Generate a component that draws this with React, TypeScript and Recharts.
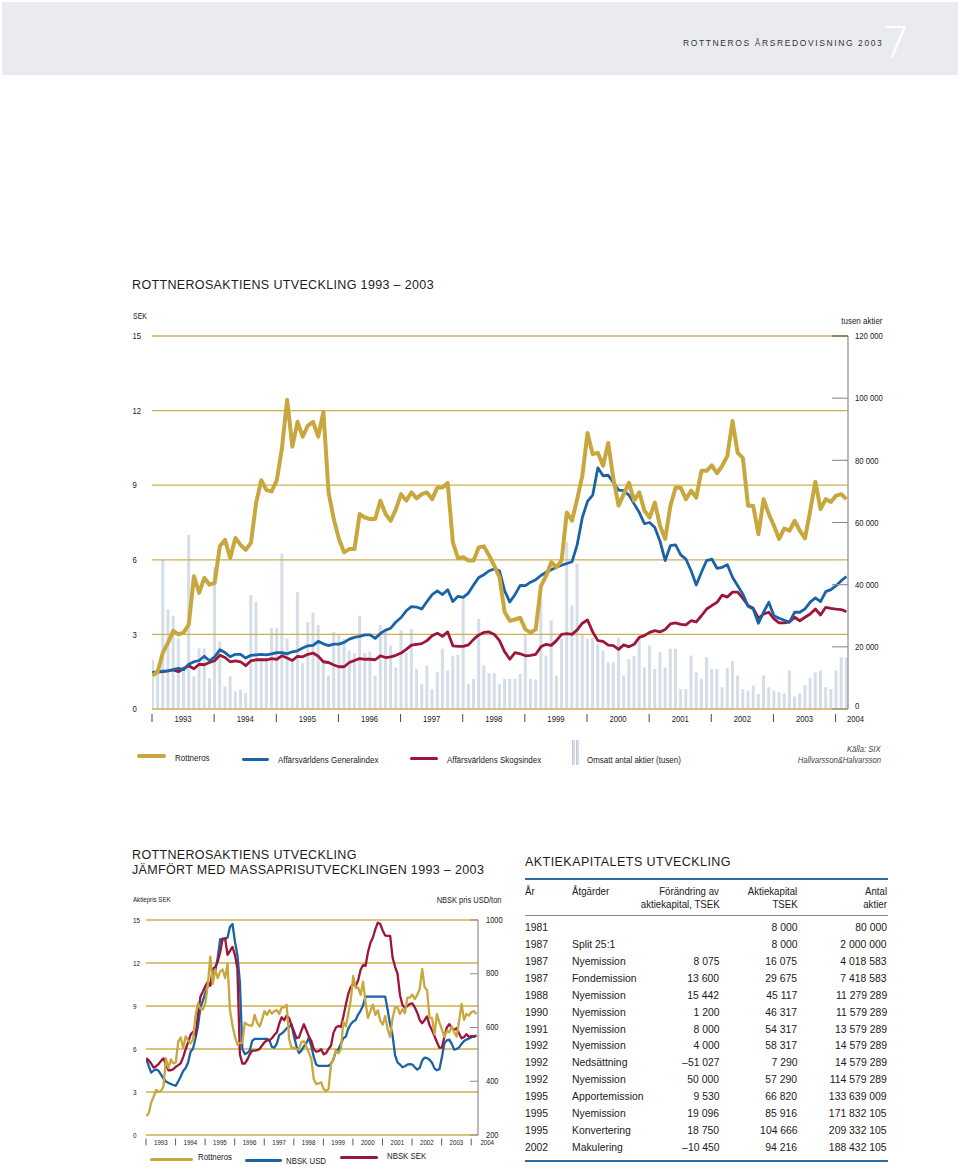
import React from 'react';
import { ComposedChart, Line, Bar, XAxis, YAxis, ReferenceLine } from 'recharts';

// ---------- DATA (monthly, Jan 1993 – Mar 2004) ----------
const ROTTNEROS = [
  1.34, 1.5, 2.27, 2.67, 3.14, 3.0, 3.07, 3.4, 5.34, 4.67, 5.27, 5.0,
  5.07, 6.54, 6.8, 6.07, 6.88, 6.6, 6.4, 6.68, 8.28, 9.2, 8.8, 8.75,
  9.2, 10.5, 12.44, 10.55, 11.55, 10.95, 11.4, 11.55, 10.95, 11.95, 8.7, 7.64,
  6.84, 6.3, 6.43, 6.43, 7.84, 7.7, 7.64, 7.64, 8.38, 7.84, 7.57, 8.04,
  8.64, 8.38, 8.71, 8.47, 8.64, 8.71, 8.44, 8.91, 8.91, 9.09, 6.7, 6.06,
  6.1, 5.97, 5.97, 6.5, 6.54, 6.17, 5.76, 5.3, 3.9, 3.55, 3.6, 3.67,
  3.2, 3.07, 3.2, 4.94, 5.35, 5.9, 5.7, 5.97, 7.9, 7.57, 8.44, 9.38,
  11.1, 10.25, 10.3, 9.78, 10.7, 9.25, 8.18, 8.64, 9.1, 8.38, 8.71, 7.97,
  7.7, 8.3, 7.37, 6.84, 8.17, 8.9, 8.9, 8.44, 8.78, 8.5, 9.58, 9.58,
  9.8, 9.48, 9.78, 10.18, 11.58, 10.3, 10.1, 8.17, 8.17, 7.03, 8.44, 7.84,
  7.37, 6.84, 7.26, 7.17, 7.57, 7.17, 6.86, 7.97, 9.14, 8.04, 8.44, 8.33,
  8.58, 8.64, 8.44,
];

const GENERALINDEX = [
  1.47, 1.5, 1.52, 1.53, 1.58, 1.63, 1.58, 1.8, 1.9, 1.95, 2.12, 1.94,
  2.1, 2.38, 2.27, 2.1, 2.2, 2.2, 2.05, 2.16, 2.18, 2.2, 2.18, 2.22,
  2.27, 2.27, 2.22, 2.3, 2.34, 2.45, 2.54, 2.56, 2.72, 2.62, 2.55, 2.61,
  2.61, 2.68, 2.81, 2.88, 2.92, 2.98, 2.98, 2.84, 3.04, 3.17, 3.25, 3.5,
  3.68, 3.95, 4.12, 4.1, 4.02, 4.32, 4.6, 4.75, 4.6, 4.8, 4.32, 4.53,
  4.49, 4.66, 4.99, 5.29, 5.4, 5.56, 5.63, 5.56, 4.75, 4.3, 4.6, 4.97,
  4.96, 5.1, 5.2, 5.37, 5.5, 5.6, 5.7, 5.78, 5.85, 5.92, 6.6, 7.7,
  8.35, 8.6, 9.7, 9.38, 9.4, 9.1, 8.8, 8.78, 8.6, 8.25, 7.9, 7.45,
  7.5, 7.3, 6.75, 5.97, 6.57, 6.6, 6.2, 6.03, 5.56, 4.99, 5.5, 5.97,
  6.03, 5.66, 5.7, 5.8, 5.3, 4.96, 4.62, 4.13, 4.02, 3.45, 3.89, 4.29,
  3.75, 3.65, 3.57, 3.49, 3.89, 3.89, 4.03, 4.3, 4.47, 4.32, 4.72, 4.8,
  4.96, 5.16, 5.33,
];

const SKOGSINDEX = [
  1.45, 1.48, 1.5, 1.53, 1.57, 1.5, 1.63, 1.74, 1.62, 1.8, 1.78, 1.87,
  1.94, 2.16, 2.07, 1.9, 1.94, 1.9, 1.74, 1.94, 1.98, 1.98, 1.98, 2.03,
  2.0, 2.14, 2.05, 1.95, 2.12, 2.1, 2.2, 2.25, 2.12, 1.9, 1.87, 1.77,
  1.7, 1.7, 1.87, 1.95, 2.03, 2.0, 2.0, 1.98, 2.14, 2.07, 2.1, 2.16,
  2.25, 2.4, 2.57, 2.6, 2.63, 2.75, 2.95, 3.05, 2.92, 3.1, 2.54, 2.52,
  2.52, 2.58, 2.8, 2.98, 3.08, 3.1, 3.0, 2.75, 2.3, 2.0, 2.27, 2.22,
  2.14, 2.16, 2.2, 2.5, 2.6, 2.56, 2.75, 3.0, 3.03, 3.0, 3.18, 3.45,
  3.58, 3.1, 2.75, 2.72, 2.57, 2.55, 2.4, 2.58, 2.5, 2.6, 2.88, 2.95,
  3.08, 3.15, 3.1, 3.2, 3.42, 3.46, 3.4, 3.38, 3.55, 3.5, 3.75, 4.02,
  4.16, 4.29, 4.58, 4.5, 4.7, 4.7, 4.45, 4.16, 4.05, 3.65, 3.82, 3.89,
  3.62, 3.46, 3.46, 3.5, 3.69, 3.55, 3.69, 3.82, 4.02, 3.78, 4.09, 4.05,
  4.02, 4.0, 3.91,
];

// Omsatt antal aktier (tusen)
const OMSATT = [
  15800, 12600, 48000, 32000, 30000, 22700, 13700, 56000, 10500, 19500, 19500, 9900,
  45700, 21700, 7300, 10500, 5700, 6200, 5100, 36600, 34500, 16000, 16000, 26000,
  26000, 50000, 22700, 16000, 37600, 14700, 28000, 31000, 27000, 15000, 10800, 24700,
  24000, 22600, 18800, 18000, 30000, 18000, 18500, 10800, 27000, 25000, 20400, 13400,
  25300, 18000, 25800, 12900, 8000, 14000, 6400, 11800, 19400, 12400, 17200, 17400,
  35500, 8000, 9700, 29000, 14000, 11500, 11500, 8000, 9700, 9700, 9700, 11300,
  24000, 9700, 9500, 35500, 17200, 28500, 10800, 22600, 53800, 33300, 46800, 24000,
  22600, 23000, 21000, 18800, 15000, 15000, 23000, 10800, 16000, 17000, 22600, 13400,
  20400, 12900, 18300, 13400, 19400, 19400, 6400, 6400, 17200, 11800, 9700, 16700,
  12900, 12900, 7000, 13100, 15500, 10800, 6400, 5900, 7500, 4800, 10800, 7000,
  6000, 5400, 5000, 12400, 4000, 5000, 7700, 9900, 11800, 12400, 7000, 6400,
  12400, 16700, 16500,
];

// NBSK pris USD/ton
const NBSK_USD = [
  483, 457, 432, 440, 444, 439, 425, 410, 399, 394, 390, 386,
  383, 400, 418, 438, 449, 470, 510, 522, 560, 605, 675, 700,
  730, 755, 762, 787, 810, 860, 928, 930, 929, 935, 975, 985,
  920, 870, 770, 520, 501, 505, 514, 550, 558, 558, 558, 558,
  558, 558, 552, 528, 525, 540, 572, 578, 586, 597, 602, 612,
  565, 530, 505, 514, 530, 542, 562, 530, 490, 462, 457, 457,
  457, 457, 457, 466, 482, 513, 518, 540, 560, 566, 596, 612,
  622, 628, 648, 662, 682, 715, 715, 715, 715, 715, 715, 715,
  715, 715, 665, 610, 570, 496, 470, 462, 452, 456, 462, 464,
  462, 452, 443, 450, 477, 488, 486, 480, 469, 448, 441, 445,
  489, 540, 552, 555, 539, 518, 520, 526, 539, 550, 555, 559,
  564, 567, 570,
];

// NBSK i SEK, avläst mot högeraxelns skala
const NBSK_SEK = [
  486, 478, 466, 451, 456, 464, 476, 485, 462, 441, 441, 445,
  454, 460, 467, 490, 520, 545, 573, 584, 570, 650, 715, 734,
  755, 770, 755, 818, 825, 845, 880, 930, 932, 870, 885, 900,
  870, 820, 501, 466, 466, 480, 500, 514, 514, 516, 520, 533,
  545, 552, 552, 560, 572, 582, 615, 638, 627, 645, 635, 607,
  585, 560, 563, 589, 612, 590, 567, 550, 520, 510, 512, 519,
  500, 505, 520, 533, 580, 600, 606, 602, 640, 685, 725, 750,
  762, 755, 775, 815, 832, 829, 880, 915, 935, 966, 990, 985,
  960, 942, 941, 941, 860, 826, 800, 720, 684, 673, 680, 688,
  690, 675, 655, 628, 616, 628, 641, 608, 590, 568, 545, 525,
  525, 565, 600, 612, 600, 590, 598, 578, 560, 565, 575, 565,
  568, 566, 570,
];

const YEARS = [1993, 1994, 1995, 1996, 1997, 1998, 1999, 2000, 2001, 2002, 2003, 2004];
const SEK_TICKS = [0, 3, 6, 9, 12, 15];
const VOL_TICKS = [0, 20000, 40000, 60000, 80000, 100000, 120000];
const USD_TICKS = [200, 400, 600, 800, 1000];

const TABLE_HEAD = [
  ['År', ''],
  ['Åtgärder', ''],
  ['Förändring av', 'aktiekapital, TSEK'],
  ['Aktiekapital', 'TSEK'],
  ['Antal', 'aktier'],
];
const TABLE_ROWS = [
  ['1981', '', '', '8 000', '80 000'],
  ['1987', 'Split 25:1', '', '8 000', '2 000 000'],
  ['1987', 'Nyemission', '8 075', '16 075', '4 018 583'],
  ['1987', 'Fondemission', '13 600', '29 675', '7 418 583'],
  ['1988', 'Nyemission', '15 442', '45 117', '11 279 289'],
  ['1990', 'Nyemission', '1 200', '46 317', '11 579 289'],
  ['1991', 'Nyemission', '8 000', '54 317', '13 579 289'],
  ['1992', 'Nyemission', '4 000', '58 317', '14 579 289'],
  ['1992', 'Nedsättning', '–51 027', '7 290', '14 579 289'],
  ['1992', 'Nyemission', '50 000', '57 290', '114 579 289'],
  ['1995', 'Apportemission', '9 530', '66 820', '133 639 009'],
  ['1995', 'Nyemission', '19 096', '85 916', '171 832 105'],
  ['1995', 'Konvertering', '18 750', '104 666', '209 332 105'],
  ['2002', 'Makulering', '–10 450', '94 216', '188 432 105'],
];

// month positions on the time axis (decimal years)
const MONTH_T = ROTTNEROS.map((_, i) => YEARS[0] + (i + 0.1) / 12);

const X_TICKS: number[] = [];
YEARS.forEach((y) => {
  X_TICKS.push(y);
  if (y < 2004) X_TICKS.push(y + 0.5);
});

const data1 = MONTH_T.map((t, i) => ({
  t,
  rottneros: ROTTNEROS[i],
  general: GENERALINDEX[i],
  skog: SKOGSINDEX[i],
  omsatt: OMSATT[i],
}));

const data2 = MONTH_T.map((t, i) => ({
  t,
  rottneros: ROTTNEROS[i],
  usd: NBSK_USD[i],
  sek: NBSK_SEK[i],
}));

// ---------- STYLE ----------
const FONT = '"Liberation Sans", Arial, Helvetica, sans-serif';
const GOLD = '#c9a73f';
const GRID = '#ccb04e';
const BLUE = '#1a63a6';
const RED = '#9d1539';
const BARC = '#d5dde8';
const TXT = '#1a1a1a';

const fmt = (v: number) => String(v).replace(/\B(?=(\d{3})+(?!\d))/g, ' ');

type TProps = {
  x: number;
  y: number;
  size: number;
  anchor?: 'start' | 'end';
  sx?: number;
  children: React.ReactNode;
  style?: React.CSSProperties;
};
// HTML text, vertically centred on y, horizontally condensed by sx
const T = ({ x, y, size, anchor = 'start', sx = 1, children, style }: TProps) => (
  <div
    style={{
      position: 'absolute',
      ...(anchor === 'end' ? { right: 960 - x } : { left: x }),
      top: y - size * 0.6,
      fontSize: size,
      lineHeight: `${size * 1.2}px`,
      whiteSpace: 'nowrap',
      color: TXT,
      fontFamily: FONT,
      transform: sx !== 1 ? `scaleX(${sx})` : undefined,
      transformOrigin: anchor === 'end' ? 'right center' : 'left center',
      ...style,
    }}
  >
    {children}
  </div>
);

// SVG text, condensed horizontally
const SText = ({ x, y, size, sx, anchor = 'start', children }: { x: number; y: number; size: number; sx: number; anchor?: 'start' | 'middle' | 'end'; children: React.ReactNode }) => (
  <g transform={`translate(${x} ${y}) scale(${sx} 1)`}>
    <text x={0} y={0} fontSize={size} fontFamily={FONT} fill={TXT} textAnchor={anchor} dominantBaseline="central">
      {children}
    </text>
  </g>
);

const Swatch = ({ x, y, w, h, color }: { x: number; y: number; w: number; h: number; color: string }) => (
  <div style={{ position: 'absolute', left: x, top: y - h / 2, width: w, height: h, background: color, borderRadius: h / 2 }} />
);

// ---------- CHART 1 ticks (local coords: plot 52..748 x, 36..409 y) ----------
const X1Tick = (props: any) => {
  const { x, payload } = props;
  const v = payload.value as number;
  if (Number.isInteger(v)) {
    return (
      <g>
        <line x1={x} x2={x} y1={414} y2={422} stroke="#333" strokeWidth={0.9} />
        {v === 2004 && <SText x={x + 20} y={418.5} size={9} sx={0.86} anchor="middle">{v}</SText>}
      </g>
    );
  }
  return <SText x={x} y={418.5} size={9} sx={0.86} anchor="middle">{Math.floor(v)}</SText>;
};

const L1Tick = (props: any) => <SText x={32.5} y={props.y} size={9} sx={0.86}>{props.payload.value}</SText>;

const R1Tick = (props: any) => {
  const v = props.payload.value as number;
  return (
    <g>
      <line x1={732} x2={748} y1={props.y} y2={props.y} stroke={v === 120000 ? '#555' : '#8c8c8c'} strokeWidth={1.1} />
      <SText x={755} y={v === 0 ? props.y - 3 : props.y} size={9} sx={0.86}>{fmt(v)}</SText>
    </g>
  );
};

// ---------- CHART 2 ticks (local coords: plot 36..368 x, 15..230 y) ----------
const X2Tick = (props: any) => {
  const { x, payload } = props;
  const v = payload.value as number;
  if (Number.isInteger(v)) {
    return (
      <g>
        <line x1={x} x2={x} y1={233.5} y2={240.5} stroke="#333" strokeWidth={0.8} />
        {v === 2004 && <SText x={x + 16} y={237} size={7.3} sx={0.84} anchor="middle">{v}</SText>}
      </g>
    );
  }
  return <SText x={x} y={237} size={7.3} sx={0.84} anchor="middle">{Math.floor(v)}</SText>;
};

const L2Tick = (props: any) => <SText x={23} y={props.y} size={7.6} sx={0.84}>{props.payload.value}</SText>;

const R2Tick = (props: any) => {
  const v = props.payload.value as number;
  return (
    <g>
      <line x1={360} x2={368} y1={props.y} y2={props.y} stroke="#8c8c8c" strokeWidth={1} />
      <SText x={376} y={props.y} size={8.6} sx={0.87}>{v}</SText>
    </g>
  );
};

const TITLE: React.CSSProperties = { letterSpacing: 0.35, color: '#1c1c1c' };
const SX = 0.85;
const TSX = 0.88;

export default function App() {
  return (
    <div style={{ position: 'absolute', left: 0, top: 0, width: 960, height: 1167, overflow: 'hidden', background: '#fff', fontFamily: FONT }}>
      {/* Header band */}
      <div style={{ position: 'absolute', left: 2, top: 2, width: 956, height: 73, background: '#e9ebee' }} />
      <T x={683} y={43.5} size={8.5} style={{ letterSpacing: 1.6, color: '#333' }}>ROTTNEROS ÅRSREDOVISNING 2003</T>
      <div style={{ position: 'absolute', left: 883, top: 19, fontSize: 44, lineHeight: '44px', color: '#fff', fontFamily: '"Open Sans", Lato, sans-serif', fontWeight: 300 }}>7</div>

      {/* ===== Chart 1 ===== */}
      <T x={132} y={285} size={12.5} style={TITLE}>ROTTNEROSAKTIENS UTVECKLING 1993 – 2003</T>
      <T x={132.5} y={317} size={8.2} sx={SX}>SEK</T>
      <T x={882} y={321} size={9.4} sx={SX} anchor="end">tusen aktier</T>

      <div style={{ position: 'absolute', left: 100, top: 300 }}>
        <ComposedChart width={800} height={440} data={data1} margin={{ top: 36, right: 12, bottom: 11, left: 12 }}>
          <XAxis
            dataKey="t"
            type="number"
            domain={[1993, 2004.2]}
            ticks={X_TICKS}
            interval={0}
            allowDataOverflow
            axisLine={false}
            tickLine={false}
            height={20}
            tick={X1Tick}
          />
          <YAxis yAxisId="l" domain={[0, 15]} ticks={SEK_TICKS} interval={0} width={40} axisLine={false} tickLine={false} tick={L1Tick} />
          <YAxis
            yAxisId="r"
            orientation="right"
            domain={[0, 120000]}
            ticks={VOL_TICKS}
            interval={0}
            width={40}
            axisLine={{ stroke: '#8c8c8c', strokeWidth: 1.2 }}
            tickLine={false}
            tick={R1Tick}
          />
          <Bar yAxisId="r" dataKey="omsatt" barSize={3} fill={BARC} isAnimationActive={false} />
          {SEK_TICKS.map((v) => (
            <ReferenceLine key={v} yAxisId="l" y={v} stroke={GRID} strokeWidth={1.3} />
          ))}
          <Line yAxisId="l" dataKey="skog" type="linear" stroke={RED} strokeWidth={2.8} dot={false} strokeLinejoin="round" isAnimationActive={false} />
          <Line yAxisId="l" dataKey="general" type="linear" stroke={BLUE} strokeWidth={2.8} dot={false} strokeLinejoin="round" isAnimationActive={false} />
          <Line yAxisId="l" dataKey="rottneros" type="linear" stroke={GOLD} strokeWidth={4} dot={false} strokeLinejoin="round" isAnimationActive={false} />
        </ComposedChart>
      </div>

      {/* Legend chart 1 */}
      <Swatch x={137} y={756} w={29} h={4} color={GOLD} />
      <T x={175} y={757.5} size={9.4} sx={SX}>Rottneros</T>
      <Swatch x={242} y={759.2} w={27} h={2.8} color={BLUE} />
      <T x={278} y={759.5} size={9.4} sx={SX}>Affärsvärldens Generalindex</T>
      <Swatch x={410} y={758.8} w={28} h={3} color={RED} />
      <T x={446.5} y={759.3} size={9.4} sx={SX}>Affärsvärldens Skogsindex</T>
      <div style={{ position: 'absolute', left: 572, top: 740, width: 2.3, height: 25, background: BARC, borderLeft: '0.5px solid #bfcad8' }} />
      <div style={{ position: 'absolute', left: 576, top: 740, width: 2.3, height: 25, background: BARC, borderLeft: '0.5px solid #bfcad8' }} />
      <T x={587} y={759.5} size={9.4} sx={SX}>Omsatt antal aktier (tusen)</T>
      <T x={881} y={749.3} size={9} sx={SX} anchor="end" style={{ fontStyle: 'italic', color: '#444' }}>Källa: SIX</T>
      <T x={881} y={760} size={9} sx={SX} anchor="end" style={{ fontStyle: 'italic', color: '#444' }}>Hallvarsson&amp;Halvarsson</T>

      {/* ===== Chart 2 ===== */}
      <T x={132} y={855.5} size={12.5} style={TITLE}>ROTTNEROSAKTIENS UTVECKLING</T>
      <T x={132} y={870.3} size={12.5} style={TITLE}>JÄMFÖRT MED MASSAPRISUTVECKLINGEN 1993 – 2003</T>
      <T x={133} y={900} size={7} sx={0.88}>Aktiepris SEK</T>
      <T x={501.5} y={900} size={8.6} sx={0.87} anchor="end">NBSK pris USD/ton</T>

      <div style={{ position: 'absolute', left: 110, top: 905 }}>
        <ComposedChart width={420} height={250} data={data2} margin={{ top: 15, right: 12, bottom: 5, left: 6 }}>
          <XAxis
            dataKey="t"
            type="number"
            domain={[1993, 2004.23]}
            ticks={X_TICKS}
            interval={0}
            allowDataOverflow
            axisLine={false}
            tickLine={false}
            height={15}
            tick={X2Tick}
          />
          <YAxis yAxisId="l" domain={[0, 15]} ticks={SEK_TICKS} interval={0} width={30} axisLine={false} tickLine={false} tick={L2Tick} />
          <YAxis
            yAxisId="r"
            orientation="right"
            domain={[200, 1000]}
            ticks={USD_TICKS}
            interval={0}
            width={40}
            axisLine={{ stroke: '#8c8c8c', strokeWidth: 1.2 }}
            tickLine={false}
            tick={R2Tick}
          />
          {SEK_TICKS.map((v) => (
            <ReferenceLine key={v} yAxisId="l" y={v} stroke={GRID} strokeWidth={1.3} />
          ))}
          <Line yAxisId="r" dataKey="usd" type="linear" stroke={BLUE} strokeWidth={2.3} dot={false} strokeLinejoin="round" isAnimationActive={false} />
          <Line yAxisId="r" dataKey="sek" type="linear" stroke={RED} strokeWidth={2.3} dot={false} strokeLinejoin="round" isAnimationActive={false} />
          <Line yAxisId="l" dataKey="rottneros" type="linear" stroke={GOLD} strokeWidth={2.3} dot={false} strokeLinejoin="round" isAnimationActive={false} />
        </ComposedChart>
      </div>

      {/* Legend chart 2 */}
      <Swatch x={150} y={1159.7} w={43} h={3} color={GOLD} />
      <T x={198} y={1157.3} size={9} sx={0.87}>Rottneros</T>
      <Swatch x={245} y={1160.5} w={37} h={2.8} color={BLUE} />
      <T x={286} y={1161.5} size={9} sx={0.87}>NBSK USD</T>
      <Swatch x={340} y={1157.3} w={38} h={3} color={RED} />
      <T x={386.5} y={1156.5} size={9} sx={0.87}>NBSK SEK</T>

      {/* ===== Table ===== */}
      <T x={525} y={862.7} size={12.5} style={{ letterSpacing: 0.45, color: '#1c1c1c' }}>AKTIEKAPITALETS UTVECKLING</T>
      <div style={{ position: 'absolute', left: 525, top: 877.5, width: 363, height: 2, background: '#2f6aa6' }} />
      {/* header */}
      <T x={525} y={891.7} size={11} sx={TSX}>{TABLE_HEAD[0][0]}</T>
      <T x={571.5} y={891.7} size={11} sx={TSX}>{TABLE_HEAD[1][0]}</T>
      <T x={719.3} y={891.7} size={11} sx={TSX} anchor="end">{TABLE_HEAD[2][0]}</T>
      <T x={719.3} y={904.2} size={11} sx={TSX} anchor="end">{TABLE_HEAD[2][1]}</T>
      <T x={797.3} y={891.7} size={11} sx={TSX} anchor="end">{TABLE_HEAD[3][0]}</T>
      <T x={797.3} y={904.2} size={11} sx={TSX} anchor="end">{TABLE_HEAD[3][1]}</T>
      <T x={886.7} y={891.7} size={11} sx={TSX} anchor="end">{TABLE_HEAD[4][0]}</T>
      <T x={886.7} y={904.2} size={11} sx={TSX} anchor="end">{TABLE_HEAD[4][1]}</T>
      <div style={{ position: 'absolute', left: 525, top: 914.5, width: 363, height: 1, background: '#8a8a8a' }} />
      {TABLE_ROWS.map((r, k) => {
        const y = 927.3 + k * 16.88;
        return (
          <React.Fragment key={k}>
            <T x={525} y={y} size={11.8} sx={TSX}>{r[0]}</T>
            <T x={571.5} y={y} size={11.8} sx={TSX}>{r[1]}</T>
            <T x={719.3} y={y} size={11.8} sx={TSX} anchor="end">{r[2]}</T>
            <T x={797.3} y={y} size={11.8} sx={TSX} anchor="end">{r[3]}</T>
            <T x={886.7} y={y} size={11.8} sx={TSX} anchor="end">{r[4]}</T>
          </React.Fragment>
        );
      })}
      <div style={{ position: 'absolute', left: 525, top: 1160, width: 363, height: 2, background: '#2f6aa6' }} />
    </div>
  );
}
